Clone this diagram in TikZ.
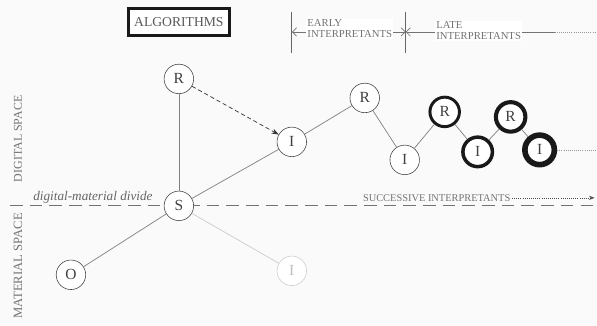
\documentclass[tikz,border=0pt]{standalone}
\usepackage{fontspec}
\setmainfont{Liberation Serif}
\usepackage{tikz}
\usetikzlibrary{arrows.meta}

\begin{document}
\begin{tikzpicture}[x=0.025cm,y=0.025cm,
  sign/.style={circle,draw=black!75,fill=white,minimum size=21pt,inner sep=0pt,
    font=\fontsize{11}{11}\selectfont,text=black!75},
  link/.style={draw=black!50,line width=0.5pt},
  caps/.style={text=black!55,font=\fontsize{7.6}{7.8}\selectfont,align=left,inner sep=1pt}]
% background and frame of the picture
\fill[black!2] (0,0) rectangle (597,326);

% the divide between the two spaces
\coordinate (divL) at (10,120);
\coordinate (divR) at (597,120);
\draw[black!55,dashed,dash pattern=on 9pt off 5pt,line width=0.6pt] (divL) -- (divR);
\node[text=black!60,font=\fontsize{9.4}{9.4}\selectfont\itshape] (dmd) at (93,129) {digital-material divide};
\node[rotate=90,text=black!55,font=\fontsize{8.5}{8.5}\selectfont] (dig) at (18,187) {DIGITAL SPACE};
\node[rotate=90,text=black!55,font=\fontsize{9}{9}\selectfont] (mat) at (18,60) {MATERIAL SPACE};

% algorithms box
\node[draw=black!90,line width=2pt,fill=white,minimum width=72pt,minimum height=19pt,
  text=black!65,font=\fontsize{9.7}{9.7}\selectfont] (alg) at (179,304) {ALGORITHMS};

% early and late interpretants
\coordinate (eTop) at (292,314); \coordinate (eBot) at (292,273);
\coordinate (lTop) at (406,314); \coordinate (lBot) at (406,273);
\coordinate (e) at (292,294); \coordinate (l) at (406,294);
\coordinate (lEnd) at (555,294); \coordinate (lFar) at (597,294);
\draw[black!60,line width=0.6pt] (eTop) -- (eBot);
\draw[black!60,line width=0.6pt] (lTop) -- (lBot);
\draw[black!55,line width=0.5pt,{Straight Barb[length=3pt]}-{Straight Barb[length=3pt]}] (e) -- (l);
\draw[black!55,line width=0.5pt,{Straight Barb[length=3pt]}-] (l) -- (lEnd);
\draw[black!40,line width=0.5pt,densely dotted] (lEnd) -- (lFar);
\node[caps,fill=white] (early) at (350,297) {EARLY\\INTERPRETANTS};
\node[caps,fill=white] (late) at (479,295) {LATE\\INTERPRETANTS};

% the signs
\node[sign] (r) at (179,247) {R};
\node[sign] (s) at (179,120) {S};
\node[sign] (o) at (71,51) {O};
\node[sign] (i) at (292,184) {I};
\node[sign,draw=black!20,text=black!25] (if) at (292,55) {I};
\node[sign] (r2) at (365,228) {R};
\node[sign] (i2) at (405,166) {I};
\node[sign,line width=2.1pt,draw=black!90] (r3) at (445,214) {R};
\node[sign,line width=2.5pt,draw=black!90] (i3) at (478,174) {I};
\node[sign,line width=2.9pt,draw=black!90] (r4) at (511,209) {R};
\node[sign,line width=4pt,draw=black!90] (i4) at (540,176) {I};

% connections
\draw[link] (r) -- (s);
\draw[link] (o) -- (s);
\draw[link] (s) -- (i);
\draw[link,draw=black!20] (s) -- (if);
\draw[link] (i) -- (r2);
\draw[link] (r2) -- (i2);
\draw[link] (i2) -- (r3);
\draw[link] (r3) -- (i3);
\draw[link] (i3) -- (r4);
\draw[link] (r4) -- (i4);
\draw[black!80,line width=0.5pt,densely dashed,-{Stealth[length=5pt]}] (r) -- (i);
\coordinate (iEnd) at (597,176);
\draw[black!40,line width=0.5pt,densely dotted] (i4) -- (iEnd);

% successive interpretants
\node[caps,font=\fontsize{7.4}{7.4}\selectfont] (succ) at (437,128) {SUCCESSIVE INTERPRETANTS};
\coordinate (sEnd) at (595,128);
\draw[black!70,line width=0.5pt,densely dotted,-{Stealth[length=4pt]}] (succ.east) -- (sEnd);
\end{tikzpicture}
\end{document}
